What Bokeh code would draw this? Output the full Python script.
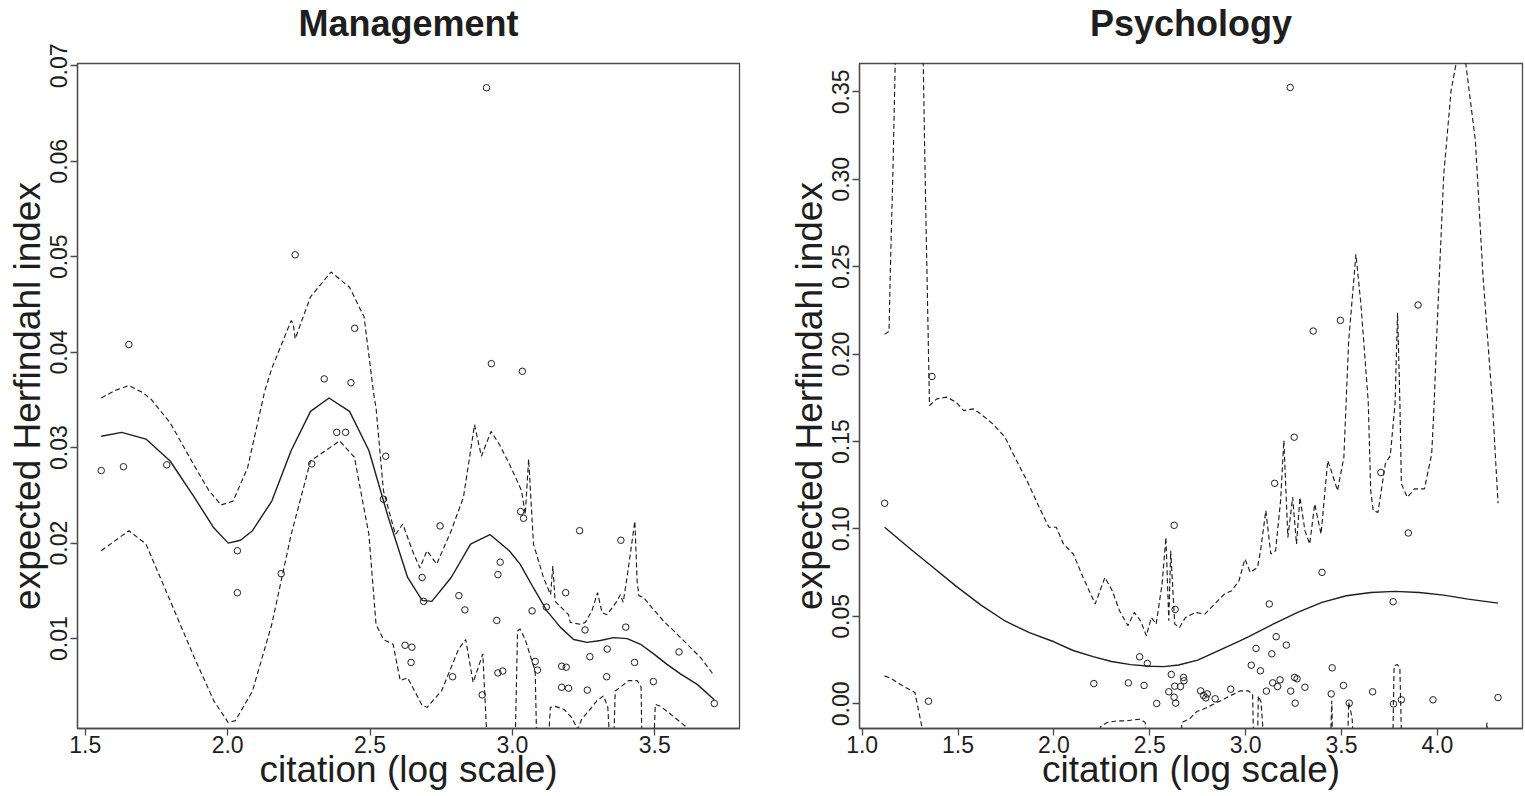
from bokeh.plotting import figure
from bokeh.layouts import row
from bokeh.models import FixedTicker, Range1d, Title
from bokeh.embed import file_html
from bokeh.resources import INLINE

# ---------------- Management panel data ----------------
mgmt_pts_x = [1.556, 1.634, 1.653, 1.786, 2.034, 2.034, 2.188, 2.237, 2.295, 2.339,
              2.383, 2.414, 2.433, 2.446, 2.547, 2.555, 2.623, 2.644, 2.647, 2.683,
              2.688, 2.746, 2.790, 2.812, 2.833, 2.894, 2.909, 2.926, 2.945, 2.949,
              2.949, 2.957, 2.966, 3.029, 3.035, 3.039, 3.069, 3.080, 3.088, 3.119,
              3.173, 3.173, 3.187, 3.189, 3.197, 3.236, 3.255, 3.263, 3.272, 3.331,
              3.333, 3.381, 3.398, 3.429, 3.495, 3.585, 3.709]
mgmt_pts_y = [0.0276, 0.0280, 0.0408, 0.0282, 0.0192, 0.0148, 0.0168, 0.0502, 0.0283, 0.0372,
              0.0316, 0.0316, 0.0368, 0.0425, 0.0246, 0.0291, 0.0093, 0.0075, 0.0091, 0.0164,
              0.0139, 0.0218, 0.0060, 0.0145, 0.0130, 0.0041, 0.0677, 0.0388, 0.0119, 0.0167,
              0.0064, 0.0180, 0.0066, 0.0233, 0.0380, 0.0226, 0.0129, 0.0076, 0.0067, 0.0133,
              0.0071, 0.0049, 0.0148, 0.0070, 0.0048, 0.0213, 0.0109, 0.0046, 0.0081, 0.0060,
              0.0089, 0.0203, 0.0112, 0.0075, 0.0055, 0.0086, 0.0032]

mgmt_fit_x = [1.556, 1.628, 1.713, 1.798, 1.883, 1.951, 2.002, 2.045, 2.087, 2.155,
              2.223, 2.291, 2.356, 2.428, 2.496, 2.564, 2.632, 2.683, 2.717, 2.785,
              2.853, 2.921, 2.989, 3.027, 3.074, 3.121, 3.168, 3.215, 3.262, 3.309,
              3.356, 3.403, 3.450, 3.496, 3.543, 3.590, 3.649, 3.709]
mgmt_fit_y = [0.0312, 0.0316, 0.0309, 0.0286, 0.0248, 0.0216, 0.0200, 0.0203, 0.0213, 0.0244,
              0.0297, 0.0338, 0.0352, 0.0338, 0.0297, 0.0227, 0.0164, 0.0140, 0.0139, 0.0164,
              0.0199, 0.0209, 0.0192, 0.0178, 0.0153, 0.0129, 0.0112, 0.0099, 0.0096, 0.0098,
              0.0101, 0.0100, 0.0094, 0.0084, 0.0073, 0.0063, 0.0052, 0.0036]

mgmt_up_x = [1.556, 1.605, 1.653, 1.700, 1.730, 1.798, 1.883, 1.934, 1.977, 2.019,
             2.070, 2.130, 2.155, 2.223, 2.230, 2.237, 2.291, 2.363, 2.428, 2.479,
             2.513, 2.521, 2.547, 2.589, 2.615, 2.649, 2.675, 2.700, 2.734, 2.785,
             2.828, 2.867, 2.891, 2.925, 2.955, 2.989, 3.032, 3.045, 3.057, 3.074,
             3.109, 3.134, 3.142, 3.150, 3.197, 3.203, 3.238, 3.256, 3.279, 3.299,
             3.315, 3.332, 3.367, 3.379, 3.389, 3.403, 3.430, 3.438, 3.444, 3.461,
             3.491, 3.532, 3.567, 3.614, 3.661, 3.709]
mgmt_up_y = [0.0352, 0.0360, 0.0365, 0.0358, 0.0351, 0.0326, 0.0281, 0.0255, 0.0240, 0.0244,
             0.0279, 0.0359, 0.0383, 0.0433, 0.0430, 0.0414, 0.0458, 0.0484, 0.0468, 0.0437,
             0.0356, 0.0342, 0.0255, 0.0209, 0.0220, 0.0192, 0.0174, 0.0192, 0.0178, 0.0213,
             0.0248, 0.0324, 0.0291, 0.0317, 0.0303, 0.0283, 0.0255, 0.0230, 0.0288, 0.0199,
             0.0164, 0.0146, 0.0176, 0.0139, 0.0125, 0.0117, 0.0115, 0.0117, 0.0129, 0.0148,
             0.0127, 0.0125, 0.0139, 0.0146, 0.0138, 0.0165, 0.0223, 0.0160, 0.0145, 0.0143,
             0.0132, 0.0118, 0.0108, 0.0094, 0.0080, 0.0061]

mgmt_lo_x = [1.556, 1.653, 1.713, 1.789, 1.883, 1.951, 2.002, 2.027, 2.087, 2.155,
             2.223, 2.291, 2.393, 2.445, 2.496, 2.521, 2.547, 2.581, 2.606, 2.632,
             2.683, 2.700, 2.751, 2.811, 2.836, 2.862, 2.896, 2.913, 2.960, 3.009,
             3.018, 3.027, 3.045, 3.068, 3.080, 3.086, 3.125, 3.133, 3.150, 3.180,
             3.209, 3.229, 3.244, 3.268, 3.297, 3.320, 3.335, 3.344, 3.355, 3.361,
             3.379, 3.408, 3.438, 3.452, 3.455, 3.495, 3.502, 3.520, 3.555, 3.608,
             3.660, 3.709]
mgmt_lo_y = [0.0192, 0.0213, 0.0199, 0.0146, 0.0080, 0.0035, 0.0012, 0.0014, 0.0045, 0.0115,
             0.0209, 0.0286, 0.0307, 0.0290, 0.0209, 0.0115, 0.0099, 0.0094, 0.0056, 0.0059,
             0.0030, 0.0028, 0.0045, 0.0089, 0.0099, 0.0054, 0.0084, -0.0020, -0.0040, -0.0020,
             0.0108, 0.0110, 0.0099, 0.0077, 0.0066, -0.0020, -0.0020, 0.0028, 0.0029, 0.0026,
             0.0017, 0.0005, 0.0016, 0.0024, 0.0035, 0.0040, 0.0028, -0.0020, -0.0020, 0.0045,
             0.0049, 0.0056, 0.0056, 0.0049, -0.0020, -0.0020, 0.0031, 0.0029, 0.0021, 0.0008,
             -0.0010, -0.0020]

mgmt_xticks = [1.5, 2.0, 2.5, 3.0, 3.5]
mgmt_xlabels = ["1.5", "2.0", "2.5", "3.0", "3.5"]
mgmt_yticks = [0.01, 0.02, 0.03, 0.04, 0.05, 0.06, 0.07]
mgmt_ylabels = ["0.01", "0.02", "0.03", "0.04", "0.05", "0.06", "0.07"]

# ---------------- Psychology panel data ----------------
psy_pts_x = [3.232, 3.899, 3.494, 3.352, 1.364, 1.117, 1.346, 3.253, 3.151, 3.705,
             2.627, 3.848, 3.398, 2.632, 3.123, 3.769, 3.159, 3.212, 3.054, 3.136,
             2.447, 2.487, 3.029, 3.451, 3.077, 2.612, 2.676, 2.678, 3.255, 3.268,
             3.179, 3.141, 2.208, 2.388, 2.470, 2.630, 2.660, 3.166, 3.309, 3.510,
             2.922, 2.765, 2.599, 3.108, 3.235, 3.662, 3.446, 2.800, 2.780, 2.792,
             2.841, 2.627, 3.812, 3.977, 4.316, 2.536, 2.635, 3.258, 3.540, 3.771]
psy_pts_y = [0.3525, 0.2281, 0.2193, 0.2132, 0.1872, 0.1147, 0.0015, 0.1525, 0.1261, 0.1323,
             0.1021, 0.0977, 0.0752, 0.0540, 0.0571, 0.0584, 0.0384, 0.0336, 0.0317, 0.0286,
             0.0269, 0.0231, 0.0221, 0.0206, 0.0189, 0.0168, 0.0151, 0.0132, 0.0151, 0.0143,
             0.0137, 0.0120, 0.0116, 0.0120, 0.0105, 0.0101, 0.0099, 0.0099, 0.0095, 0.0105,
             0.0084, 0.0074, 0.0069, 0.0073, 0.0073, 0.0069, 0.0057, 0.0057, 0.0048, 0.0034,
             0.0029, 0.0038, 0.0023, 0.0023, 0.0036, 0.0002, 0.0004, 0.0004, 0.0004, 0.0000]

psy_fit_x = [1.117, 1.236, 1.364, 1.491, 1.618, 1.745, 1.872, 2.000, 2.100, 2.204,
             2.300, 2.400, 2.500, 2.573, 2.650, 2.750, 2.870, 2.970, 3.016, 3.143,
             3.271, 3.398, 3.525, 3.652, 3.779, 3.906, 4.033, 4.160, 4.316]
psy_fit_y = [0.1010, 0.0900, 0.0785, 0.0672, 0.0566, 0.0474, 0.0407, 0.0355, 0.0305, 0.0270,
             0.0242, 0.0224, 0.0215, 0.0213, 0.0222, 0.0250, 0.0310, 0.0360, 0.0385, 0.0456,
             0.0523, 0.0580, 0.0618, 0.0637, 0.0643, 0.0637, 0.0622, 0.0599, 0.0576]

psy_up_x = [1.117, 1.140, 1.147, 1.160, 1.173, 1.190, 1.300, 1.318, 1.328, 1.338,
            1.351, 1.389, 1.440, 1.491, 1.529, 1.580, 1.618, 1.681, 1.745, 1.796,
            1.859, 1.923, 1.974, 2.012, 2.050, 2.101, 2.152, 2.215, 2.266, 2.304,
            2.342, 2.386, 2.419, 2.452, 2.482, 2.508, 2.533, 2.564, 2.584, 2.599,
            2.609, 2.630, 2.655, 2.686, 2.737, 2.787, 2.838, 2.889, 2.927, 2.965,
            2.996, 3.024, 3.062, 3.080, 3.105, 3.131, 3.156, 3.182, 3.199, 3.220,
            3.245, 3.265, 3.283, 3.309, 3.334, 3.360, 3.393, 3.428, 3.449, 3.479,
            3.512, 3.537, 3.575, 3.601, 3.639, 3.652, 3.665, 3.690, 3.728, 3.754,
            3.779, 3.792, 3.804, 3.812, 3.843, 3.881, 3.932, 3.970, 3.983, 3.995,
            4.033, 4.071, 4.097, 4.122, 4.148, 4.198, 4.237, 4.288, 4.316]
psy_up_y = [0.2113, 0.2130, 0.2490, 0.3030, 0.3700, 0.5000, 0.5000, 0.3700, 0.3030, 0.2456,
            0.1706, 0.1744, 0.1754, 0.1725, 0.1677, 0.1687, 0.1658, 0.1601, 0.1525, 0.1410,
            0.1277, 0.1124, 0.1010, 0.1010, 0.0914, 0.0857, 0.0723, 0.0571, 0.0723, 0.0647,
            0.0532, 0.0447, 0.0523, 0.0475, 0.0389, 0.0494, 0.0456, 0.0685, 0.0952, 0.0475,
            0.0876, 0.0456, 0.0437, 0.0494, 0.0523, 0.0513, 0.0571, 0.0628, 0.0647, 0.0704,
            0.0828, 0.0752, 0.0781, 0.0895, 0.1105, 0.0857, 0.0876, 0.1162, 0.1506, 0.0952,
            0.1181, 0.0914, 0.1181, 0.0990, 0.0914, 0.1143, 0.0971, 0.1391, 0.1324, 0.1219,
            0.1410, 0.2074, 0.2571, 0.2284, 0.1730, 0.1219, 0.1105, 0.1095, 0.1372, 0.1420,
            0.1716, 0.2237, 0.1730, 0.1258, 0.1181, 0.1229, 0.1229, 0.1429, 0.1716, 0.2074,
            0.3029, 0.3506, 0.3660, 0.3850, 0.3660, 0.3219, 0.2456, 0.1700, 0.1147]

psy_lo_x = [1.117, 1.147, 1.211, 1.275, 1.313, 1.330, 2.220, 2.243, 2.277, 2.329,
            2.381, 2.416, 2.450, 2.476, 2.490, 2.660, 2.667, 2.711, 2.745, 2.780,
            2.832, 2.875, 2.919, 2.971, 3.014, 3.036, 3.043, 3.060, 3.066, 3.080,
            3.100, 3.440, 3.449, 3.455, 3.530, 3.537, 3.555, 3.565, 3.766, 3.774,
            3.790, 3.804, 3.815, 4.250, 4.258, 4.264, 4.316]
psy_lo_y = [0.0160, 0.0147, 0.0103, 0.0065, -0.0140, -0.0300, -0.0300, -0.0131, -0.0107, -0.0097,
            -0.0097, -0.0091, -0.0088, -0.0107, -0.0300, -0.0300, -0.0107, -0.0082, -0.0044, -0.0030,
            -0.0002, 0.0021, 0.0046, 0.0074, 0.0074, 0.0055, -0.0300, -0.0300, 0.0046, 0.0010,
            -0.0300, -0.0300, 0.0017, -0.0300, -0.0300, 0.0010, -0.0080, -0.0300, -0.0300, 0.0218,
            0.0225, 0.0208, -0.0300, -0.0300, -0.0107, -0.0300, -0.0300]

psy_xticks = [1.0, 1.5, 2.0, 2.5, 3.0, 3.5, 4.0]
psy_xlabels = ["1.0", "1.5", "2.0", "2.5", "3.0", "3.5", "4.0"]
psy_yticks = [0.0, 0.05, 0.10, 0.15, 0.20, 0.25, 0.30, 0.35]
psy_ylabels = ["0.00", "0.05", "0.10", "0.15", "0.20", "0.25", "0.30", "0.35"]

FONT = "Liberation Sans"
INK = "#1e1e1e"
FRAME = "#4a4a4a"
FH = 666
TOP = 62
BOTTOM = 67


def panel(title, px, py, fx, fy, ux, uy, lx, ly, xr, yr,
          xticks, xlabels, yticks, ylabels, fw, bl, br):
    p = figure(x_range=Range1d(*xr), y_range=Range1d(*yr),
               width=bl + fw + br, height=TOP + FH + BOTTOM,
               min_border_left=bl, min_border_right=br,
               min_border_top=TOP, min_border_bottom=BOTTOM,
               output_backend="svg", toolbar_location=None)
    # a thin spacer next to the frame pushes the panel title upwards
    p.add_layout(Title(text=" ", text_font_size="2px", standoff=16,
                       align="center"), "above")
    p.add_layout(Title(text=title, text_font=FONT, text_font_size="36px",
                       text_font_style="bold", text_color=INK,
                       align="center", standoff=0), "above")

    p.xgrid.visible = False
    p.ygrid.visible = False
    p.outline_line_color = FRAME
    p.outline_line_width = 1.3
    p.background_fill_color = "white"
    p.border_fill_color = "white"

    for ax in (p.xaxis[0], p.yaxis[0]):
        ax.axis_line_color = FRAME
        ax.axis_line_width = 1.3
        ax.major_tick_line_color = FRAME
        ax.major_tick_line_width = 1.3
        ax.major_tick_in = 0
        ax.major_tick_out = 7
        ax.minor_tick_line_color = None
        ax.major_label_text_font = FONT
        ax.major_label_text_font_size = "23px"
        ax.major_label_text_color = INK
        ax.axis_label_text_font = FONT
        ax.axis_label_text_font_size = "37px"
        ax.axis_label_text_font_style = "normal"
        ax.axis_label_text_color = INK

    p.xaxis.ticker = FixedTicker(ticks=xticks)
    p.xaxis.major_label_overrides = dict(zip(xticks, xlabels))
    p.xaxis.major_label_standoff = 0
    p.xaxis.axis_label = "citation (log scale)"
    p.xaxis.axis_label_standoff = -7

    p.yaxis.ticker = FixedTicker(ticks=yticks)
    p.yaxis.major_label_overrides = dict(zip(yticks, ylabels))
    p.yaxis.major_label_orientation = "vertical"
    p.yaxis.major_label_standoff = 3
    p.yaxis.axis_label = "expected Herfindahl index"
    p.yaxis.axis_label_standoff = 0

    p.line(ux, uy, line_color=INK, line_width=1.15, line_dash="5 3")
    p.line(lx, ly, line_color=INK, line_width=1.15, line_dash="5 3")
    p.line(fx, fy, line_color=INK, line_width=1.4)
    p.scatter(px, py, marker="circle", size=6.5, fill_color=None,
              line_color=INK, line_width=1.0)
    return p


p1 = panel("Management", mgmt_pts_x, mgmt_pts_y, mgmt_fit_x, mgmt_fit_y,
           mgmt_up_x, mgmt_up_y, mgmt_lo_x, mgmt_lo_y,
           (1.4726, 3.7975), (0.00058, 0.07024),
           mgmt_xticks, mgmt_xlabels, mgmt_yticks, mgmt_ylabels,
           662, 77, 31)
p2 = panel("Psychology", psy_pts_x, psy_pts_y, psy_fit_x, psy_fit_y,
           psy_up_x, psy_up_y, psy_lo_x, psy_lo_y,
           (0.986, 4.4436), (-0.0141, 0.3662),
           psy_xticks, psy_xlabels, psy_yticks, psy_ylabels,
           663, 89, 2)

layout = row(p1, p2)
open("out.html", "w").write(file_html(layout, INLINE))
